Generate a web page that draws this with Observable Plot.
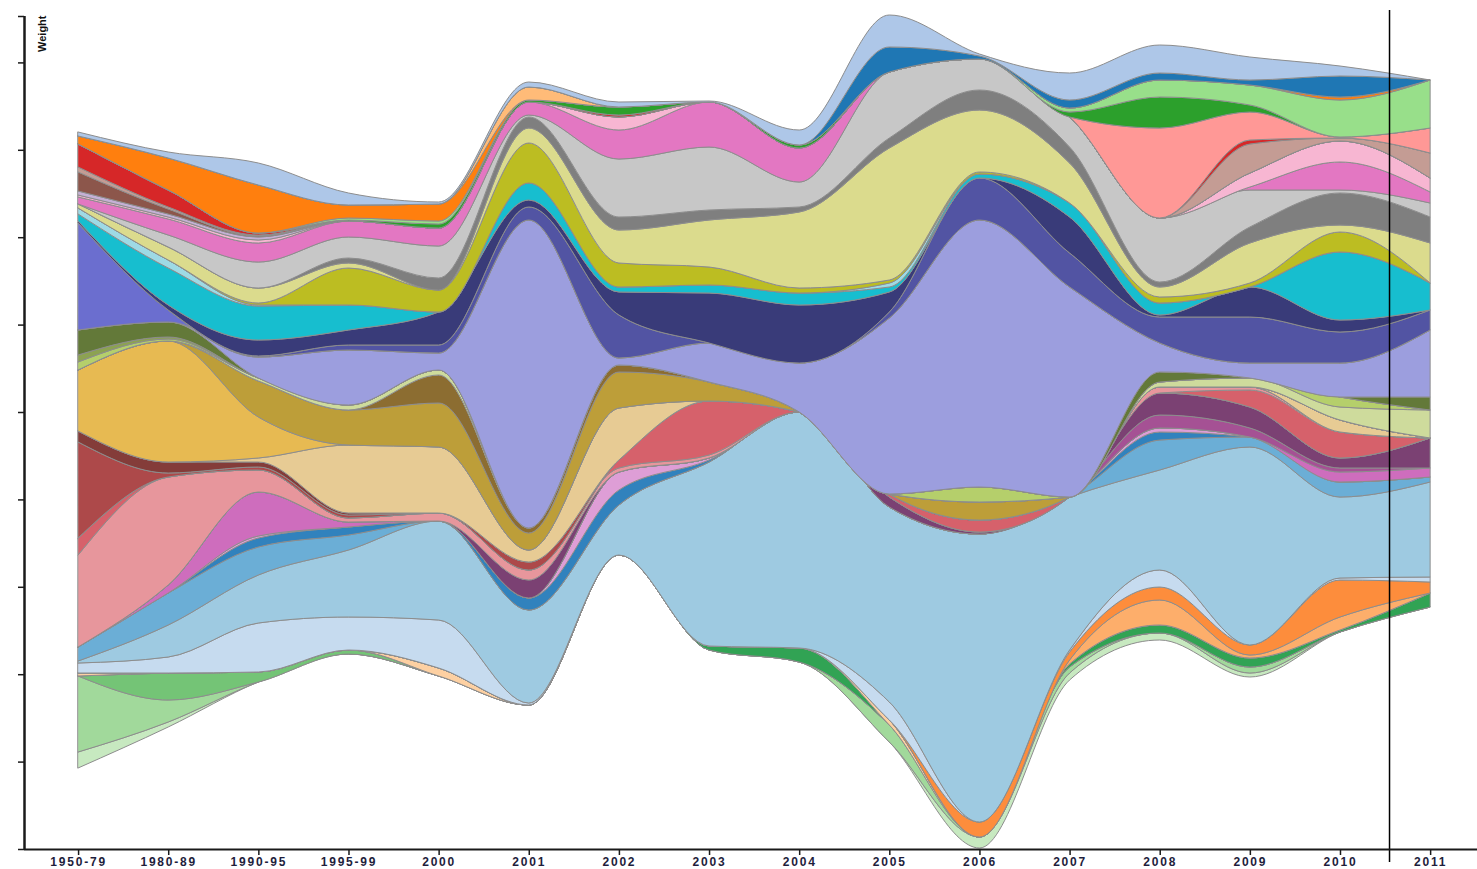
<!DOCTYPE html>
<html><head><meta charset="utf-8">
<script src="https://cdn.jsdelivr.net/npm/d3@7"></script>
<script src="https://cdn.jsdelivr.net/npm/@observablehq/plot@0.6"></script>
<style>
body{margin:0;background:#fff;}
#chart svg{display:block;}
</style>
</head><body><div id="chart"></div>
<script>
// x categories
const periods = ["1950-79","1980-89","1990-95","1995-99","2000","2001","2002","2003","2004","2005","2006","2007","2008","2009","2010","2011"];
// lower edge of the stream (offset of the stack) per period
const lowerEdge = [81,122,167,195,173,144,294,199,187,107,1,169,209,172,217,242];

// series values, listed from the top of the stream to the bottom
const s01 = [4,6,22,12,2,5,5,1,15,32,2,27,28,23,10,0];
const s02 = [0,0,0,0,0,0,0,0,0,25,3,8,7,5,21,0];
const s03 = [0,0,0,0,0,13,0,0,0,0,0,0,0,0,0,0];
const s04 = [8,32,48,13,17,0,0,0,0,0,0,0,0,0,3,0];
const s05 = [0,0,0,2,3,0,0,0,0,0,0,4,17,20,37,48];
const s06 = [0,0,0,1,4,2,8,0,3,0,0,5,31,7,0,0];
const s07 = [0,0,0,0,0,0,0,0,0,0,0,0,90,28,1,25];
const s08 = [23,17,2,0,0,0,2,0,0,0,0,0,0,4,0,0];
const s09 = [5,2,1,0,0,0,0,0,0,0,0,0,0,29,3,25];
const s10 = [19,5,1,0,0,0,0,0,0,0,0,0,0,0,0,0];
const s11 = [4,3,3,0,0,0,0,0,0,0,0,0,0,0,0,0];
const s12 = [2,2,3,0,0,0,13,0,0,0,0,0,0,14,21,14];
const s13 = [7,16,19,16,18,13,29,45,34,0,0,0,0,3,28,11];
const s14 = [0,12,26,21,32,2,58,63,25,66,31,30,64,37,3,14];
const s15 = [0,0,0,5,12,11,13,10,5,10,20,16,5,16,32,26];
const s16 = [4,13,15,5,0,15,33,47,76,132,62,40,10,40,7,40];
const s17 = [0,0,2,37,22,40,24,18,5,3,2,0,6,4,20,0];
const s18 = [6,8,1,0,0,0,0,0,0,4,0,0,0,0,0,0];
const s19 = [7,37,34,25,0,17,5,8,12,5,4,14,12,0,68,27];
const s20 = [2,5,16,15,33,7,23,50,58,20,0,36,2,30,12,0];
const s21 = [0,0,1,5,8,13,43,0,0,6,42,34,26,46,31,20];
const s22 = [107,12,0,0,0,0,0,0,0,0,0,0,0,0,0,0];
const s23 = [0,0,21,55,17,308,7,39,49,176,267,210,29,15,34,67];
const s24 = [25,15,0,0,0,0,0,0,0,0,0,0,10,0,0,13];
const s25 = [7,2,0,0,0,0,0,0,0,0,0,0,0,0,0,0];
const s26 = [8,2,0,0,0,0,0,0,0,0,15,0,0,0,10,0];
const s27 = [0,0,3,5,5,0,0,0,0,0,0,0,5,9,13,28];
const s28 = [0,0,0,0,28,5,7,0,0,0,0,0,0,0,0,0];
const s29 = [0,0,36,35,44,17,36,19,0,0,18,0,0,0,0,0];
const s30 = [61,121,41,0,0,0,0,0,0,0,0,0,0,0,0,0];
const s31 = [0,0,4,68,66,12,52,0,0,0,0,0,0,0,12,0];
const s32 = [11,11,5,2,0,0,0,0,0,0,0,0,0,0,0,0];
const s33 = [96,4,3,3,0,8,0,0,0,0,0,0,0,0,0,0];
const s34 = [0,0,0,0,0,0,0,0,0,0,0,0,6,3,0,0];
const s35 = [17,0,0,0,0,0,8,54,0,3,12,0,0,17,26,0];
const s36 = [92,108,22,4,8,10,4,3,0,0,0,0,0,0,0,0];
const s37 = [0,0,0,0,0,18,0,0,0,10,2,0,22,21,10,30];
const s38 = [0,0,0,0,0,0,0,0,0,0,0,0,13,9,4,0];
const s39 = [0,8,44,5,0,0,0,0,0,0,0,0,0,0,10,9];
const s40 = [0,0,2,0,0,0,18,2,0,0,0,0,4,0,0,0];
const s41 = [0,0,9,8,0,12,15,2,0,0,0,0,8,0,0,0];
const s42 = [14,32,28,15,0,0,0,0,0,0,0,0,30,10,15,5];
const s43 = [2,32,48,67,99,93,50,184,236,195,288,153,100,198,81,95];
const s44 = [10,16,49,33,48,2,0,0,0,18,0,2,17,0,2,5];
const s45 = [0,0,0,0,0,0,0,0,0,0,15,8,13,10,37,11];
const s46 = [0,0,0,0,0,0,0,0,0,0,0,4,25,3,13,0];
const s47 = [3,0,0,0,8,0,0,0,0,5,0,0,0,0,0,0];
const s48 = [0,0,0,0,0,0,0,4,14,0,0,3,8,9,2,14];
const s49 = [0,27,10,4,0,0,0,0,0,0,0,0,0,0,0,0];
const s50 = [76,22,0,0,0,0,0,0,0,17,0,6,0,6,0,0];
const s51 = [16,5,0,0,0,0,0,0,0,0,11,7,7,4,0,0];

const seriesList = [s01,s02,s03,s04,s05,s06,s07,s08,s09,s10,s11,s12,s13,s14,s15,s16,s17,s18,s19,s20,
  s21,s22,s23,s24,s25,s26,s27,s28,s29,s30,s31,s32,s33,s34,s35,s36,s37,s38,s39,s40,
  s41,s42,s43,s44,s45,s46,s47,s48,s49,s50,s51];
const seriesColors = ["#aec7e8","#1f77b4","#ffbb78","#ff7f0e","#98df8a","#2ca02c","#ff9896","#d62728","#c49c94","#8c564b",
  "#c5b0d5","#f7b6d2","#e377c2","#c7c7c7","#7f7f7f","#dbdb8d","#bcbd22","#9edae5","#17becf","#393b79",
  "#5254a3","#6b6ecf","#9c9ede","#637939","#8ca252","#b5cf6b","#cedb9c","#8c6d31","#bd9e39","#e7ba52",
  "#e7cb94","#843c39","#ad494a","#e7969c","#d6616b","#e7969c","#7b4173","#a55194","#ce6dbd","#de9ed6",
  "#3182bd","#6baed6","#9ecae1","#c6dbef","#fd8d3c","#fdae6b","#fdd0a2","#31a354","#74c476","#a1d99b","#c7e9c0"];

const yTicks = d3.range(0, 10).map(k => k * 87.4).concat([833]);
const markerAt = 14.544;

// build stacked table (bottom series first)
const rows = [];
for (let k = seriesList.length - 1; k >= 0; k--) {
  for (let i = 0; i < periods.length; i++) {
    let base = lowerEdge[i];
    for (let j = seriesList.length - 1; j > k; j--) base += seriesList[j][i];
    rows.push({series: k, color: seriesColors[k], x: i, y1: base, y2: base + seriesList[k][i]});
  }
}

const chart = Plot.plot({
  width: 1477,
  height: 869,
  marginLeft: 24,
  marginRight: 0,
  marginTop: 10,
  marginBottom: 20,
  x: {type: "linear", domain: [-0.6, 15.52], label: null},
  y: {type: "linear", domain: [0, 839], label: null},
  color: {type: "identity"},
  style: {background: "#fff", fontFamily: "'Liberation Sans', Arial, sans-serif"},
  marks: [
    Plot.areaY(rows, {x: "x", y1: "y1", y2: "y2", z: "series", fill: "color",
      stroke: "#8d8d8d", strokeWidth: 1, curve: "monotone-x"}),
    Plot.ruleX([markerAt], {y1: -13, y2: 839, stroke: "#000", strokeWidth: 1.5}),
    Plot.ruleY([0], {stroke: "#1a1a1a", strokeWidth: 2}),
    Plot.ruleX([-0.6], {y1: 0, y2: 833, stroke: "#1a1a1a", strokeWidth: 2.5}),
    Plot.axisY(yTicks, {tickSize: 6, tickFormat: () => "", label: null, stroke: "#1a1a1a", strokeWidth: 1.5}),
    Plot.axisX(d3.range(periods.length), {tickSize: 6, tickPadding: 2, tickFormat: i => periods[i], label: null,
      stroke: "#1a1a1a", strokeWidth: 1.5, fontSize: 12, fontWeight: "bold", fill: "#1e1e3c"}),
    Plot.text(["Weight"], {frameAnchor: "top-left", dx: 14, dy: 5, rotate: -90, textAnchor: "end",
      fontSize: 11, fontWeight: "bold", fill: "#111"})
  ]
});
// wider letter spacing for the period labels, as in the original
d3.select(chart).selectAll("g[aria-label='x-axis tick label'] text")
  .style("letter-spacing", "1.8px");
document.getElementById("chart").appendChild(chart);
</script>
</body></html>
